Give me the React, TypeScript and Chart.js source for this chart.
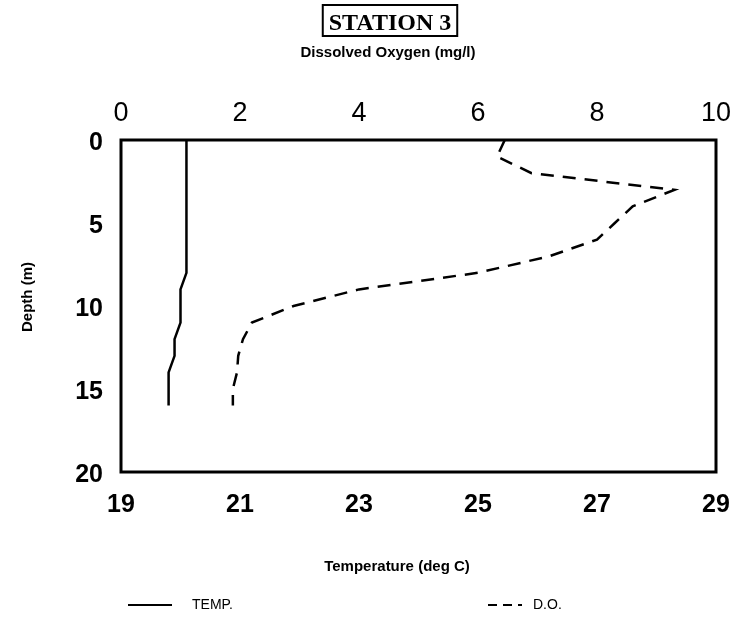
import React, { useEffect, useRef } from "react";
import { Chart, registerables } from "chart.js";

Chart.register(...registerables);

// ---- data ----
const depthM = [0, 1, 2, 3, 4, 5, 6, 7, 8, 9, 10, 11, 12, 13, 14, 15, 16];
const tempDegC = [20.1, 20.1, 20.1, 20.1, 20.1, 20.1, 20.1, 20.1, 20.1, 20.0, 20.0, 20.0, 19.9, 19.9, 19.8, 19.8, 19.8];
const doMgL = [6.45, 6.32, 6.9, 9.3, 8.6, 8.3, 8.0, 7.2, 6.0, 4.0, 2.9, 2.2, 2.05, 1.97, 1.95, 1.88, 1.88];

const doAxis = { min: 0, max: 10, step: 2 };
const tempAxis = { min: 19, max: 29, step: 2 };
const depthAxis = { min: 0, max: 20, step: 5 };

const TITLE = "STATION 3";
const TOP_TITLE = "Dissolved Oxygen (mg/l)";
const BOTTOM_TITLE = "Temperature (deg C)";
const LEFT_TITLE = "Depth (m)";
const SERIES_LABELS = ["TEMP.", "D.O."];

const SANS = '"Liberation Sans", Arial, Helvetica, sans-serif';
const SERIF = '"Liberation Serif", "Times New Roman", serif';

const decorPlugin = {
  id: "decor",
  afterDraw(chart: any) {
    const { ctx, chartArea: a } = chart;
    ctx.save();
    ctx.fillStyle = "#000";
    ctx.strokeStyle = "#000";

    // frame
    ctx.lineWidth = 3;
    ctx.setLineDash([]);
    ctx.strokeRect(a.left, a.top, a.right - a.left, a.bottom - a.top);

    // boxed title
    ctx.font = `bold 24px ${SERIF}`;
    ctx.textAlign = "center";
    ctx.textBaseline = "alphabetic";
    const cx = 390;
    const tw = ctx.measureText(TITLE).width;
    ctx.fillText(TITLE, cx, 30);
    ctx.lineWidth = 2;
    ctx.strokeRect(cx - tw / 2 - 6, 5, tw + 12, 31);

    // axis titles
    ctx.font = `bold 15px ${SANS}`;
    ctx.textBaseline = "middle";
    ctx.fillText(TOP_TITLE, 388, 53);
    ctx.fillText(BOTTOM_TITLE, 397, 567);
    ctx.save();
    ctx.translate(28, 297);
    ctx.rotate(-Math.PI / 2);
    ctx.fillText(LEFT_TITLE, 0, 0);
    ctx.restore();

    // legend
    const ly = 605;
    ctx.font = `14px ${SANS}`;
    ctx.textAlign = "left";
    const ds = chart.data.datasets;
    ctx.lineWidth = 2;
    ctx.setLineDash([]);
    ctx.beginPath();
    ctx.moveTo(128, ly);
    ctx.lineTo(172, ly);
    ctx.strokeStyle = ds[0].borderColor;
    ctx.stroke();
    ctx.fillText(ds[0].label, 192, ly);
    ctx.setLineDash([9, 6]);
    ctx.beginPath();
    ctx.moveTo(488, ly);
    ctx.lineTo(522, ly);
    ctx.strokeStyle = ds[1].borderColor;
    ctx.stroke();
    ctx.setLineDash([]);
    ctx.fillText(ds[1].label, 533, ly);
    ctx.restore();
  },
};

const noLabelPad = (s: any) => {
  s.paddingLeft = 0;
  s.paddingRight = 0;
};

export default function App() {
  const ref = useRef<HTMLCanvasElement | null>(null);

  useEffect(() => {
    if (!ref.current) return;
    const chart = new Chart(ref.current, {
      type: "scatter",
      data: {
        datasets: [
          {
            label: SERIES_LABELS[0],
            data: depthM.map((d, i) => ({ x: tempDegC[i], y: d })),
            xAxisID: "xT",
            yAxisID: "y",
            showLine: true,
            borderColor: "#000",
            backgroundColor: "#000",
            borderWidth: 2.5,
            pointRadius: 0,
            tension: 0,
          },
          {
            label: SERIES_LABELS[1],
            data: depthM.map((d, i) => ({ x: doMgL[i], y: d })),
            xAxisID: "xD",
            yAxisID: "y",
            showLine: true,
            borderColor: "#000",
            backgroundColor: "#000",
            borderWidth: 2.5,
            borderDash: [13, 9],
            pointRadius: 0,
            tension: 0,
          },
        ],
      },
      options: {
        responsive: false,
        maintainAspectRatio: false,
        animation: false,
        devicePixelRatio: 1,
        layout: { padding: { left: 0, right: 23, top: 0, bottom: 0 } },
        plugins: {
          legend: { display: false },
          title: { display: false },
          tooltip: { enabled: false },
        },
        scales: {
          xD: {
            type: "linear",
            position: "top",
            min: doAxis.min,
            max: doAxis.max,
            grid: { display: false, drawTicks: false },
            border: { display: false },
            ticks: {
              stepSize: doAxis.step,
              color: "#000",
              padding: 10,
              maxRotation: 0,
              font: { family: SANS, size: 27, weight: "normal" },
            },
            afterFit: (s: any) => {
              s.height = 140;
              noLabelPad(s);
            },
          },
          xT: {
            type: "linear",
            position: "bottom",
            min: tempAxis.min,
            max: tempAxis.max,
            grid: { display: false, drawTicks: false },
            border: { display: false },
            ticks: {
              stepSize: tempAxis.step,
              color: "#000",
              padding: 18,
              maxRotation: 0,
              font: { family: SANS, size: 25, weight: "bold" },
            },
            afterFit: (s: any) => {
              s.height = 147;
              noLabelPad(s);
            },
          },
          y: {
            type: "linear",
            position: "left",
            reverse: true,
            min: depthAxis.min,
            max: depthAxis.max,
            grid: { display: false, drawTicks: false },
            border: { display: false },
            ticks: {
              stepSize: depthAxis.step,
              color: "#000",
              padding: 18,
              labelOffset: 3,
              font: { family: SANS, size: 25, weight: "bold" },
            },
            afterFit: (s: any) => {
              s.width = 121;
              s.paddingTop = 0;
              s.paddingBottom = 0;
            },
          },
        },
      },
      plugins: [decorPlugin],
    });
    return () => chart.destroy();
  }, []);

  return (
    <div style={{ position: "absolute", left: 0, top: 0, width: 739, height: 619, background: "#fff" }}>
      <canvas ref={ref} width={739} height={619} style={{ display: "block", width: 739, height: 619 }} />
    </div>
  );
}
